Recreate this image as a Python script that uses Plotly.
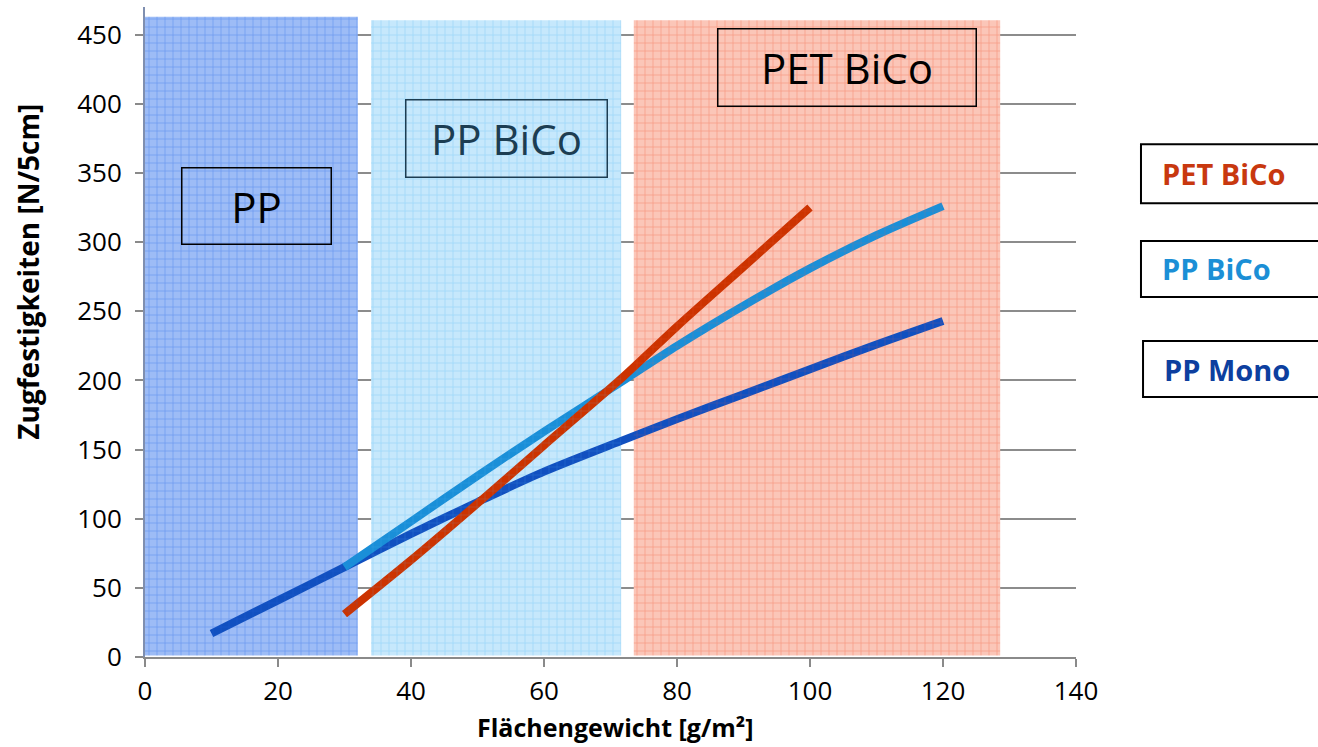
import plotly.graph_objects as go

# Tensile strength vs. basis weight for three fibre types
pp_mono_x = [10, 20, 30, 40, 50, 60, 72, 80, 90, 100, 110, 120]
pp_mono_y = [17, 41, 65, 89, 112, 134, 157, 172, 190, 208, 226, 243]

pp_bico_x = [30, 40, 50, 60, 72, 80, 90, 100, 110, 120]
pp_bico_y = [65, 98, 131, 163, 200, 225, 254, 281, 305, 326]

pet_bico_x = [30, 40, 50, 60, 72, 80, 90, 100]
pet_bico_y = [31, 70, 111, 153, 203, 239, 282, 325]

# Basis-weight ranges of the three materials
band_labels = ["PP", "PP BiCo", "PET BiCo"]
band_start = [0, 34, 73.5]
band_end = [32, 71.6, 128.6]
band_top = [463, 460.5, 460.5]
band_bottom = 1

band_bg = ["#9dbcf6", "#c6e8fc", "#fbc6b8"]
band_grid = ["#5a8bef", "#8ccff8", "#f5866b"]
band_tint = ["rgba(40,100,235,0.5)", "rgba(90,185,245,0.5)", "rgba(240,95,60,0.5)"]

series = [
    ("PP Mono", pp_mono_x, pp_mono_y, "#1150c0"),
    ("PP BiCo", pp_bico_x, pp_bico_y, "#1a8fd8"),
    ("PET BiCo", pet_bico_x, pet_bico_y, "#cc3300"),
]

fig = go.Figure()


def band_trace(i, fg, bg):
    x0, x1, top = band_start[i], band_end[i], band_top[i]
    return go.Scatter(
        x=[x0, x1, x1, x0, x0],
        y=[band_bottom, band_bottom, top, top, band_bottom],
        mode="lines",
        line=dict(width=0),
        fill="toself",
        fillcolor="rgba(0,0,0,0)",
        fillpattern=dict(shape="+", fgcolor=fg, bgcolor=bg, size=8, solidity=0.14),
        hoverinfo="skip",
        showlegend=False,
    )


# Opaque shaded ranges underneath
for i in range(len(band_labels)):
    fig.add_trace(band_trace(i, band_grid[i], band_bg[i]))

# Curves
for name, xs, ys, color in series:
    fig.add_trace(go.Scatter(
        x=xs, y=ys, mode="lines", name=name,
        line=dict(color=color, width=8, shape="spline", smoothing=0.8),
        showlegend=False,
    ))

# Translucent raster laid over the curves
for i in range(len(band_labels)):
    fig.add_trace(band_trace(i, band_tint[i], "rgba(0,0,0,0)"))

# Range labels with frames
label_pos = [(16.7, 326, 150, 77), (54.3, 375, 202, 78), (105.6, 426, 259, 78)]
label_colors = ["#000000", "#1c3d52", "#000000"]
for (cx, cy, w, h), txt, col in zip(label_pos, band_labels, label_colors):
    fig.add_annotation(
        x=cx, y=cy, xref="x", yref="y", text=txt, showarrow=False,
        font=dict(family="Open Sans", size=42, color=col),
        width=w - 2, height=h - 2, borderpad=0,
        bordercolor=col, borderwidth=1.5,
    )

# Key on the right (boxes run off the edge)
key_boxes = [(1.0698, 0.698, 0.789, 0.744, "PET BiCo", "#c8380f"),
             (1.0698, 0.554, 0.640, 0.597, "PP BiCo", "#1b8fd6"),
             (1.0720, 0.400, 0.486, 0.443, "PP Mono", "#0d3f9f")]
for x0, y0, y1, ty, txt, col in key_boxes:
    fig.add_shape(type="rect", xref="paper", yref="paper",
                  x0=x0, x1=1.3, y0=y0, y1=y1,
                  line=dict(color="#000000", width=2), fillcolor="white")
    fig.add_annotation(x=x0 + 0.0205, y=ty, xref="paper", yref="paper",
                       xanchor="left", yanchor="middle", showarrow=False,
                       text="<b>%s</b>" % txt,
                       font=dict(family="Open Sans", size=29, color=col))

# Axis titles
fig.add_annotation(x=(615 - 145) / 931, y=-0.108, xref="paper", yref="paper",
                   text="<b>Flächengewicht [g/m²]</b>", showarrow=False,
                   yanchor="middle",
                   font=dict(family="Open Sans", size=25, color="#000000"))
fig.add_annotation(x=-0.126, y=(657 - 272) / 650, xref="paper", yref="paper",
                   text="<b>Zugfestigkeiten [N/5cm]</b>", showarrow=False,
                   textangle=-90, xanchor="center", yanchor="middle",
                   font=dict(family="Open Sans", size=28, color="#000000"))

fig.update_layout(
    width=1318, height=747,
    margin=dict(l=145, r=242, t=7, b=90),
    paper_bgcolor="white", plot_bgcolor="white",
    font=dict(family="Open Sans", size=26, color="#000000"),
    showlegend=False,
)
fig.update_xaxes(
    range=[0, 140], tickvals=[0, 20, 40, 60, 80, 100, 120, 140],
    showgrid=False, zeroline=False,
    showline=True, linecolor="#8a8a8a", linewidth=2,
    ticks="outside", ticklen=8, tickwidth=2, tickcolor="#8a8a8a",
    tickfont=dict(size=26), ticklabelstandoff=2,
)
fig.update_yaxes(
    range=[0, 470], tickvals=[0, 50, 100, 150, 200, 250, 300, 350, 400, 450],
    showgrid=True, gridcolor="#8c8c8c", gridwidth=1.5, zeroline=False,
    showline=True, linecolor="#7f8fb0", linewidth=2,
    ticks="outside", ticklen=8, tickwidth=2, tickcolor="#8a8a8a",
    tickfont=dict(size=26), ticklabelstandoff=8,
)

fig.write_html("out.html")
